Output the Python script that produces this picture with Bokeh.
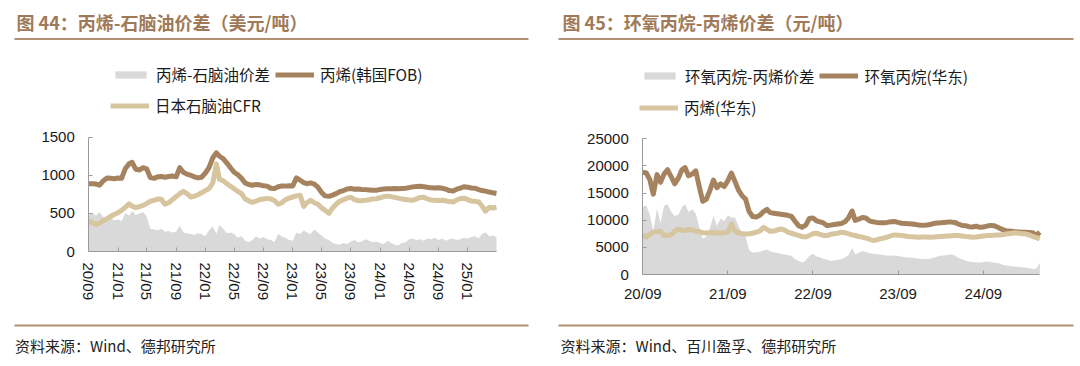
import pandas as pd
from bokeh.plotting import figure
from bokeh.layouts import row
from bokeh.models import (Range1d, FixedTicker, DatetimeTickFormatter, Legend,
                          LegendItem, Label, BoxAnnotation)
from bokeh.embed import file_html
from bokeh.resources import INLINE

# ---------------- data ----------------
# semi-monthly observation dates, 2020-09 .. 2025-05
months = pd.date_range("2020-09-01", "2025-05-01", freq="MS")
dates = []
for m in months:
    dates.append(m)
    if m < months[-1]:
        dates.append(m + pd.Timedelta(days=15))

left_ticks = ["2020-09", "2021-01", "2021-05", "2021-09", "2022-01", "2022-05", "2022-09",
              "2023-01", "2023-05", "2023-09", "2024-01", "2024-05", "2024-09", "2025-01"]
right_ticks = ["2020-09", "2021-09", "2022-09", "2023-09", "2024-09"]
left_yticks = [0, 500, 1000, 1500]
right_yticks = [0, 5000, 10000, 15000, 20000, 25000]

# Fig 44 (USD/t)
propylene_korea_fob = [
    890, 888, 885, 870, 930, 965, 960, 955, 965, 960,
    1090, 1150, 1170, 1080, 1070, 1100, 1085, 970, 960, 980,
    985, 975, 985, 990, 980, 1100, 1040, 1015, 1000, 980,
    966, 975, 1030, 1100, 1230, 1295, 1250, 1220, 1160, 1100,
    1040, 1010, 960, 900, 880, 870, 880, 875, 862, 858,
    830, 825, 850, 860, 858, 862, 860, 965, 935, 905,
    890, 900, 885, 845, 775, 730, 724, 740, 760, 785,
    800, 820, 826, 818, 820, 815, 812, 808, 804, 803,
    815, 820, 825, 822, 826, 825, 828, 830, 838, 848,
    852, 856, 850, 842, 835, 834, 836, 830, 818, 800,
    795, 818, 832, 850, 842, 834, 830, 812, 800, 792,
    780, 770, 762]
naphtha_japan_cfr = [
    395, 380, 355, 375, 405, 430, 460, 485, 510, 540,
    580, 625, 595, 575, 590, 605, 630, 660, 672, 690,
    685, 620, 640, 680, 720, 760, 790, 760, 715, 725,
    745, 770, 800, 825, 900, 1150, 945, 930, 890, 855,
    825, 790, 760, 690, 665, 645, 660, 682, 690, 697,
    690, 670, 620, 640, 680, 700, 715, 730, 737, 590,
    640, 672, 640, 620, 575, 540, 500, 570, 620, 660,
    680, 700, 712, 680, 670, 665, 672, 680, 690, 693,
    705, 720, 727, 720, 710, 700, 690, 682, 675, 671,
    690, 710, 712, 690, 675, 671, 668, 672, 665, 655,
    650, 675, 695, 700, 680, 662, 658, 650, 600, 530,
    580, 570, 580]
propylene_naphtha_spread = [
    480, 510, 470, 520, 450, 430, 440, 410, 420, 400,
    510, 470, 530, 480, 500, 520, 460, 300, 290, 280,
    300, 260, 270, 250, 260, 340, 250, 240, 230, 215,
    240, 230, 200, 280, 330, 230, 350, 300, 240, 250,
    230, 180, 200, 140, 120, 150, 200, 170, 190, 160,
    150, 120, 230, 200, 180, 150, 140, 250, 230, 280,
    250, 230, 290, 250, 210, 170, 150, 110, 100, 90,
    110, 100, 130, 150, 120, 130, 160, 140, 120, 130,
    110, 100, 140, 110, 90, 80, 110, 120, 160, 170,
    150, 160, 140, 170, 160, 180, 150, 170, 140, 160,
    170, 150, 160, 180, 170, 190, 200, 170, 230, 250,
    200, 210, 190]

# Fig 45 (CNY/t)
po_east_china = [
    18850, 18700, 17500, 14800, 18400, 17000, 18500, 19300, 18000, 16700,
    17800, 19300, 19700, 18200, 18500, 19100, 16200, 13500, 13900, 15500,
    17400, 16000, 16700, 16200, 17300, 18700, 17200, 15600, 14500, 13900,
    11600, 10700, 10600, 10900, 11600, 12000, 11400, 11300, 11200, 11100,
    11000, 10900, 10700, 9800, 9000, 8700, 9100, 10300, 10400, 9900,
    9700, 9500, 9000, 9100, 9200, 9300, 9400, 9700, 10500, 11700,
    9960, 10200, 10500, 10400, 9900, 9700, 9600, 9550, 9540, 9600,
    9700, 9780, 9600, 9450, 9400, 9350, 9300, 9200, 9100, 9050,
    9100, 9200, 9400, 9500, 9540, 9600, 9650, 9650, 9600, 9300,
    9050, 9000, 8800, 8740, 8900, 8700, 8740, 8900, 9050, 9000,
    8700, 8400, 8130, 8000, 7950, 7900, 7850, 7800, 7800, 7750,
    7700, 7200, 7800]
propylene_east_china = [
    7300, 6900, 7400, 7800, 7900, 7950, 7200, 7250, 7300, 8000,
    8400, 8100, 8100, 8300, 8250, 7950, 7900, 7700, 7650, 7700,
    7680, 7650, 7700, 7650, 7800, 9300, 8000, 7700, 7500, 7450,
    7500, 7600, 7800, 8000, 8700, 8300, 7950, 8000, 8200, 8400,
    8200, 7800, 7600, 7400, 7200, 7000, 6900, 7200, 7500, 7600,
    7400, 7200, 7180, 7400, 7500, 7600, 7800, 7700, 7500, 7300,
    7180, 7000, 6900, 6700, 6500, 6260, 6350, 6600, 6690, 6900,
    7100, 7300, 7250, 7180, 7100, 7000, 6950, 6900, 6880, 6900,
    6900, 6880, 6900, 6950, 7000, 7060, 7100, 7150, 7200, 7180,
    7100, 7000, 6950, 6880, 6900, 7000, 7100, 7180, 7200, 7250,
    7300, 7300, 7400, 7500, 7600, 7680, 7600, 7500, 7490, 7300,
    7000, 6800, 6570]
po_propylene_spread = [
    12500, 12700, 11000, 8000, 12100, 9500, 12600, 13000, 11500, 10800,
    11000, 12400, 13000, 11500, 12000, 11200, 8800, 6600, 7000, 8500,
    10800, 9000, 10300, 9800, 10900, 10500, 10500, 9000, 7600, 7000,
    4500, 4000, 4100, 4200, 4400, 4600, 4300, 4100, 4000, 3800,
    3700, 3600, 3400, 2800, 2500, 2200, 2600, 3400, 3800, 3300,
    3200, 2900, 2700, 2500, 2600, 2700, 2800, 3100, 3600, 4900,
    3750, 4000, 4300, 4200, 3900, 3800, 3750, 3700, 3600, 3500,
    3440, 3500, 3400, 3300, 3200, 3150, 3100, 3000, 2900, 2850,
    2820, 2900, 3100, 3300, 3440, 3500, 3600, 3750, 3500, 3100,
    2820, 2600, 2400, 2300, 2250, 2210, 2300, 2400, 2300, 2210,
    2100, 1900, 1720, 1600, 1500, 1450, 1400, 1350, 1300, 1200,
    1000, 1100, 2100]

left_title = "图 44：丙烯-石脑油价差（美元/吨）"
right_title = "图 45：环氧丙烷-丙烯价差（元/吨）"
left_labels = ["丙烯-石脑油价差", "丙烯(韩国FOB)", "日本石脑油CFR"]
right_labels = ["环氧丙烷-丙烯价差", "环氧丙烷(华东)", "丙烯(华东)"]
left_source = "资料来源：Wind、德邦研究所"
right_source = "资料来源：Wind、百川盈孚、德邦研究所"

# ---------------- style ----------------
BROWN = "#a5835f"
BEIGE = "#d6c59f"
GRAY = "#d9d9d9"
TITLE_C = "#a07a58"
RULE_C = "#b0906f"
CJK = "Noto Sans CJK SC"
LAT = "Liberation Sans"
H = 362


def ms(s):
    return pd.Timestamp(s).value // 10**6


def build(ox, W, px0, pxn, py0, pytop, ymax, yticks, xticks, vertical, title, labels,
          source, area_vals, dark_vals, light_vals, rule_x0, rule_x1, leg1, leg2,
          title_x, src_x):
    t0, tn = ms(dates[0]), ms(dates[-1])
    xs = (tn - t0) / (pxn - px0)
    ys = ymax / (py0 - pytop)
    p = figure(width=W, height=H, x_axis_type="datetime", output_backend="svg",
               toolbar_location=None, title=None,
               x_range=Range1d(t0 - (px0 - ox) * xs, tn + (ox + W - pxn) * xs),
               y_range=Range1d(-(H - py0) * ys, ymax + pytop * ys),
               min_border_left=0, min_border_right=0, min_border_top=0,
               min_border_bottom=0)
    p.outline_line_color = None
    p.grid.visible = False
    p.background_fill_color = "white"
    p.border_fill_color = "white"

    ra = p.varea(x=dates, y1=0, y2=area_vals, fill_color=GRAY)
    rd = p.line(dates, dark_vals, line_width=5, color=BROWN, line_join="round")
    rl = p.line(dates, light_vals, line_width=5, color=BEIGE, line_join="round")

    xa, ya = p.xaxis[0], p.yaxis[0]
    xa.fixed_location = 0
    xa.bounds = (t0, tn)
    ya.fixed_location = t0
    ya.bounds = (0, ymax)
    xa.ticker = FixedTicker(ticks=[ms(t) for t in xticks])
    fmt = "%y/%m"
    xa.formatter = DatetimeTickFormatter(microseconds=fmt, milliseconds=fmt, seconds=fmt,
                                         minsec=fmt, minutes=fmt, hourmin=fmt, hours=fmt,
                                         days=fmt, months=fmt, years=fmt)
    ya.ticker = FixedTicker(ticks=yticks)
    for ax in (xa, ya):
        ax.axis_line_color = "#9a9a9a"
        ax.major_tick_line_color = "#9a9a9a"
        ax.major_tick_in = 4
        ax.major_tick_out = 0
        ax.minor_tick_line_color = None
        ax.major_label_text_font = LAT
        ax.major_label_text_font_size = "15px"
        ax.major_label_text_color = "#1a1a1a"
    ya.major_label_standoff = 14
    if vertical:
        xa.major_label_orientation = "vertical"
        xa.major_label_standoff = 11
    else:
        xa.major_label_standoff = 10

    def sx(page_x):
        return page_x - ox

    def sy(page_y):
        return H - page_y

    def mk_leg(items, px, py_center):
        lg = Legend(items=items, orientation="horizontal",
                    location=(sx(px), sy(py_center + 10)),
                    glyph_width=39, glyph_height=9, label_standoff=6, spacing=5,
                    padding=0, margin=0, border_line_color=None,
                    background_fill_alpha=0, label_text_font=CJK,
                    label_text_font_size="15.5px", label_text_color="#1a1a1a",
                    label_height=20)
        p.add_layout(lg)

    mk_leg([LegendItem(label=labels[0], renderers=[ra]),
            LegendItem(label=labels[1], renderers=[rd])], leg1[0], leg1[1])
    mk_leg([LegendItem(label=labels[2], renderers=[rl])], leg2[0], leg2[1])

    p.add_layout(Label(x=sx(title_x), y=sy(21.5), x_units="screen", y_units="screen",
                       text=title, text_font=CJK, text_font_style="bold",
                       text_font_size="18px", text_color=TITLE_C, text_baseline="middle"))
    for yy in (38.5, 325):
        p.add_layout(BoxAnnotation(left=sx(rule_x0), right=sx(rule_x1),
                                   top=sy(yy - 1), bottom=sy(yy + 1),
                                   left_units="screen", right_units="screen",
                                   top_units="screen", bottom_units="screen",
                                   fill_color=RULE_C, fill_alpha=1, line_color=None))
    p.add_layout(Label(x=sx(src_x), y=sy(345), x_units="screen", y_units="screen",
                       text=source, text_font=CJK, text_font_size="15px",
                       text_color="#222222", text_baseline="middle"))
    return p


p1 = build(0, 540, 88.3, 496, 251, 136.7, 1500, left_yticks, left_ticks, True, left_title,
           left_labels, left_source, propylene_naphtha_spread, propylene_korea_fob,
           naphtha_japan_cfr, 14, 528, (111, 75), (110, 106), 16, 14.5)
p2 = build(540, 536, 642.3, 1039.3, 274, 138.3, 25000, right_yticks, right_ticks, False,
           right_title, right_labels, right_source, po_propylene_spread, po_east_china,
           propylene_east_china, 558, 1073, (640, 76.5), (639, 108), 562, 560)

layout = row(p1, p2)
open("out.html", "w").write(file_html(layout, INLINE))
